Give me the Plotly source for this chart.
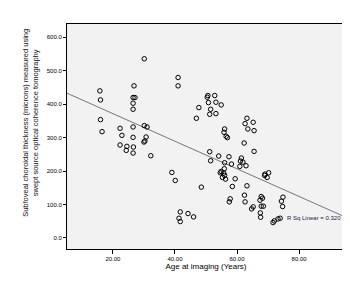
import plotly.graph_objects as go

age = [30.1, 41.0, 41.0, 15.8, 26.8, 16.0, 26.5, 27.1, 26.5, 26.5,
       50.4, 50.6, 52.8, 50.8, 53.2, 54.9, 47.7, 51.5, 51.2, 53.2,
       46.9, 16.0, 16.5, 22.3, 26.5, 30.1, 31.0, 22.9, 26.5, 30.7,
       30.0, 30.3, 63.2, 65.2, 62.6, 63.5, 65.5, 56.0, 55.8, 56.5,
       56.9, 62.3, 22.3, 24.5, 26.6, 24.3, 26.5, 32.2, 51.2, 51.5,
       54.1, 57.4, 58.2, 56.0, 61.4, 61.1, 61.9, 62.9, 60.9, 65.5,
       55.9, 54.9, 54.6, 55.7, 56.0, 55.3, 56.3, 59.4, 39.0, 40.1,
       48.5, 58.5, 63.2, 69.0, 70.2, 68.9, 69.7, 62.4, 62.6, 57.8,
       57.5, 65.2, 64.7, 67.8, 68.2, 67.4, 67.8, 68.5, 67.5, 67.6,
       74.8, 74.3, 74.7, 73.9, 72.0, 71.6, 73.2, 41.7, 44.2, 46.0,
       41.3, 41.7]
thickness = [536, 480, 455, 440, 455, 413, 420, 420, 403, 385,
             421, 426, 426, 405, 406, 398, 390, 385, 370, 372,
             358, 354, 318, 328, 332, 336, 332, 307, 301, 302,
             287, 290, 358, 346, 342, 326, 321, 326, 316, 304,
             300, 284, 278, 274, 272, 262, 254, 246, 258, 231,
             245, 243, 221, 225, 239, 230, 227, 216, 214, 259,
             207, 199, 195, 194, 187, 181, 176, 177, 196, 172,
             152, 154, 156, 191, 195, 187, 181, 128, 108, 117,
             108, 93, 87, 124, 119, 113, 95, 95, 75, 62,
             122, 110, 94, 59, 51, 46, 57, 78, 73, 63,
             59, 49]

# fit line (ends of the drawn line)
fit_x = [5.2, 94.8]
fit_y = [433, 63]

x_range = [5.2, 94.8]
y_range = [-33, 640]
x_ticks = [20, 40, 60, 80]
y_ticks = [0, 100, 200, 300, 400, 500, 600]
r2_label = "R Sq Linear = 0.320"
r2_pos = (75.5, 61)

fig = go.Figure()
fig.add_trace(go.Scatter(
    x=fit_x, y=fit_y, mode="lines",
    line=dict(color="#555555", width=0.8),
    hoverinfo="skip", showlegend=False))
fig.add_trace(go.Scatter(
    x=age, y=thickness, mode="markers",
    marker=dict(symbol="circle-open", size=4.5, color="black",
                line=dict(width=1, color="black")),
    showlegend=False))

fig.add_annotation(
    x=r2_pos[0], y=r2_pos[1], xref="x", yref="y",
    text=r2_label, showarrow=False, xanchor="left", yanchor="middle",
    font=dict(family="Liberation Sans, Arial, sans-serif", size=6, color="#222244"))

fig.add_annotation(
    x=-0.13, y=0.56, xref="paper", yref="paper",
    text="Subfoveal choroidal thickness (microns) measured using<br>swept source optical coherence tomography",
    textangle=-90, showarrow=False, xanchor="center", yanchor="middle",
    font=dict(family="Liberation Sans, Arial, sans-serif", size=7.5, color="#111122"))

fig.update_layout(
    width=350, height=284,
    margin=dict(l=59, r=13, t=16, b=43),
    paper_bgcolor="white",
    plot_bgcolor="#f2f2f2",
    font=dict(family="Liberation Sans, Arial, sans-serif", color="black"),
    xaxis=dict(
        range=x_range, tickvals=x_ticks, tickformat=".2f",
        showgrid=False, zeroline=False,
        showline=True, linecolor="black", linewidth=1, mirror=True,
        ticks="outside", ticklen=4, tickcolor="black", tickwidth=1,
        tickfont=dict(size=6),
        title=dict(text="Age at imaging (Years)", font=dict(size=8), standoff=2)),
    yaxis=dict(
        range=y_range, tickvals=y_ticks, tickformat=".1f",
        showgrid=False, zeroline=False,
        showline=True, linecolor="black", linewidth=1, mirror=True,
        ticks="outside", ticklen=3, tickcolor="black", tickwidth=1,
        tickfont=dict(size=6)),
)

fig.write_html("out.html")
